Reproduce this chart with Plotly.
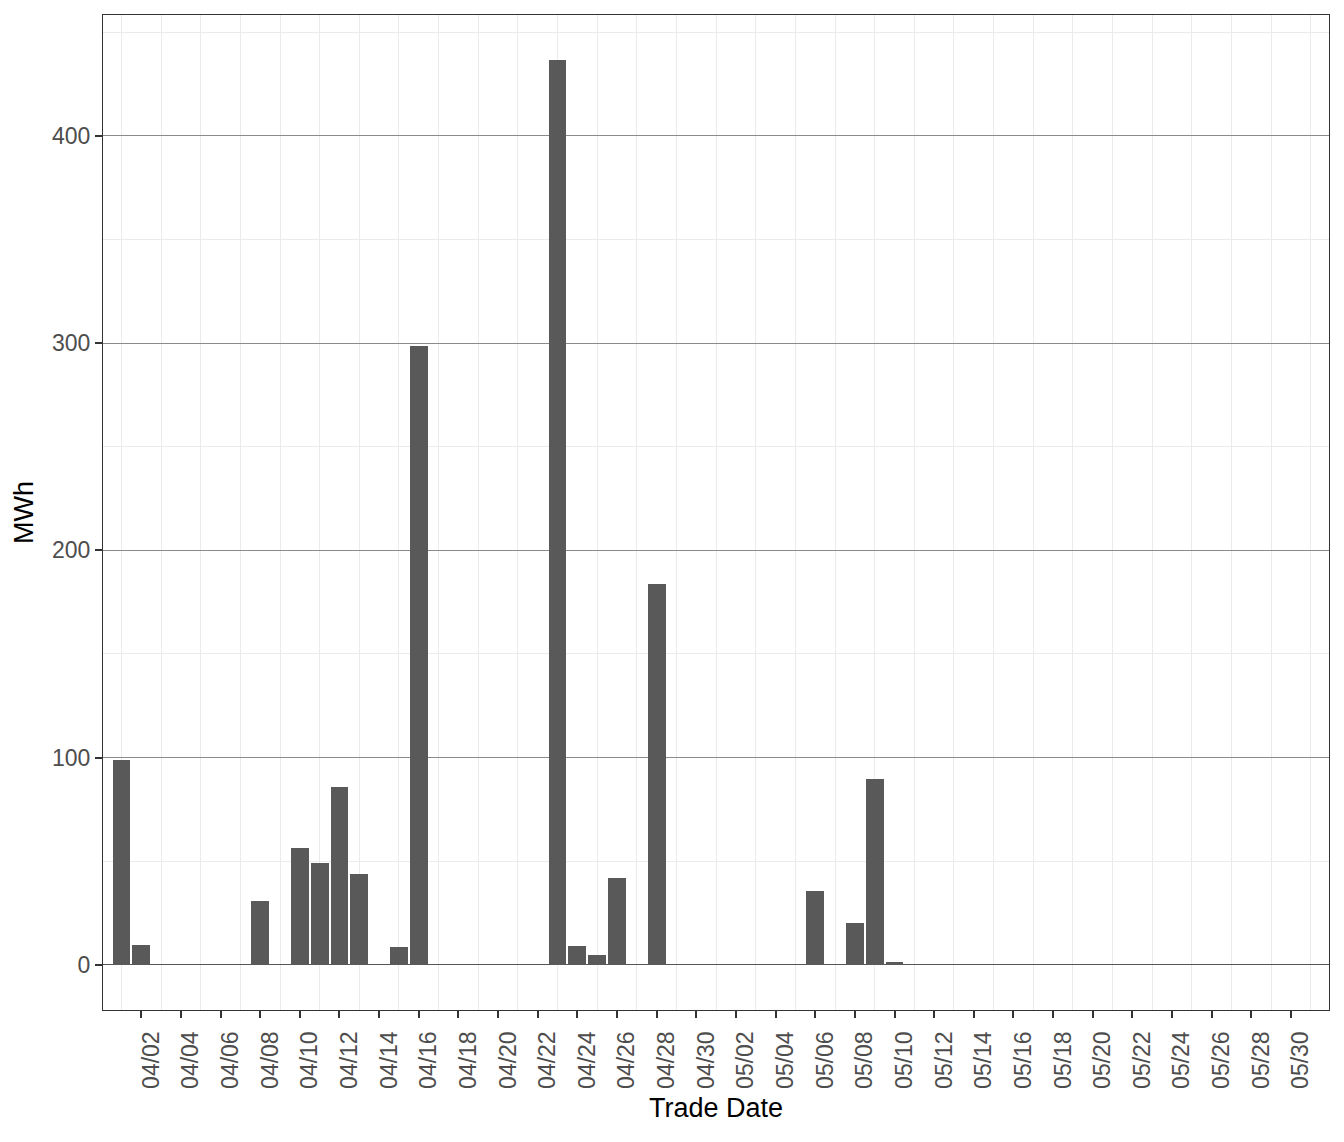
import pandas as pd
import plotly.graph_objects as go

# Data
bar_dates = ["2023-04-01", "2023-04-02", "2023-04-08", "2023-04-10", "2023-04-11",
             "2023-04-12", "2023-04-13", "2023-04-15", "2023-04-16", "2023-04-23",
             "2023-04-24", "2023-04-25", "2023-04-26", "2023-04-28", "2023-05-06",
             "2023-05-08", "2023-05-09", "2023-05-10"]
mwh = [98.6, 9.8, 31.0, 56.6, 49.3, 86.0, 43.6, 8.8, 298.7, 436.5,
       9.3, 4.5, 41.7, 183.9, 35.8, 20.3, 89.9, 1.6]

tick_dates = pd.date_range("2023-04-02", "2023-05-30", freq="2D")
tick_labels = [d.strftime("%m/%d") for d in tick_dates]
y_ticks = [0, 100, 200, 300, 400]

DAY = 86400000
x_start = pd.Timestamp("2023-04-01") - pd.Timedelta(days=0.93)
x_end = pd.Timestamp("2023-05-31") + pd.Timedelta(days=0.92)

fig = go.Figure()
fig.add_trace(go.Bar(
    x=pd.to_datetime(bar_dates), y=mwh,
    width=[0.9 * DAY] * len(mwh),
    marker=dict(color="#595959", line=dict(width=0)),
    showlegend=False,
))

fig.update_layout(
    width=1344, height=1142,
    margin=dict(l=95, r=23, t=7, b=140),
    paper_bgcolor="white", plot_bgcolor="white",
    font=dict(family="Liberation Sans, Arial, sans-serif"),
    bargap=0,
)

fig.update_xaxes(
    type="date",
    range=[x_start, x_end],
    tickmode="array", tickvals=tick_dates, ticktext=tick_labels,
    tickangle=-90,
    tickfont=dict(size=23, color="#4d4d4d"),
    ticks="outside", ticklen=7, tickwidth=1.6, tickcolor="#333333",
    ticklabelstandoff=4, ticklabelshift=10,
    showgrid=False,
    minor=dict(tick0="2023-04-01", dtick=2 * DAY, showgrid=True,
               gridcolor="#ebebeb", gridwidth=1.2, ticks=""),
    showline=True, linecolor="#333333", linewidth=1.3, mirror=True,
    title=dict(text="Trade Date", font=dict(size=27, color="black"), standoff=10),
    zeroline=False,
)

fig.update_yaxes(
    range=[-21.8, 458.3],
    tickmode="array", tickvals=y_ticks, ticktext=[str(v) for v in y_ticks],
    tickfont=dict(size=23, color="#4d4d4d"),
    ticks="outside", ticklen=7, tickwidth=1.6, tickcolor="#333333",
    showgrid=True, gridcolor="#8a8a8a", gridwidth=1,
    minor=dict(tick0=50, dtick=100, showgrid=True, gridcolor="#ebebeb",
               gridwidth=1.2, ticks=""),
    zeroline=True, zerolinecolor="#555555", zerolinewidth=1,
    showline=True, linecolor="#333333", linewidth=1.3, mirror=True,
    title=dict(text="MWh", font=dict(size=27, color="black"), standoff=10),
)

fig.write_html("out.html")
